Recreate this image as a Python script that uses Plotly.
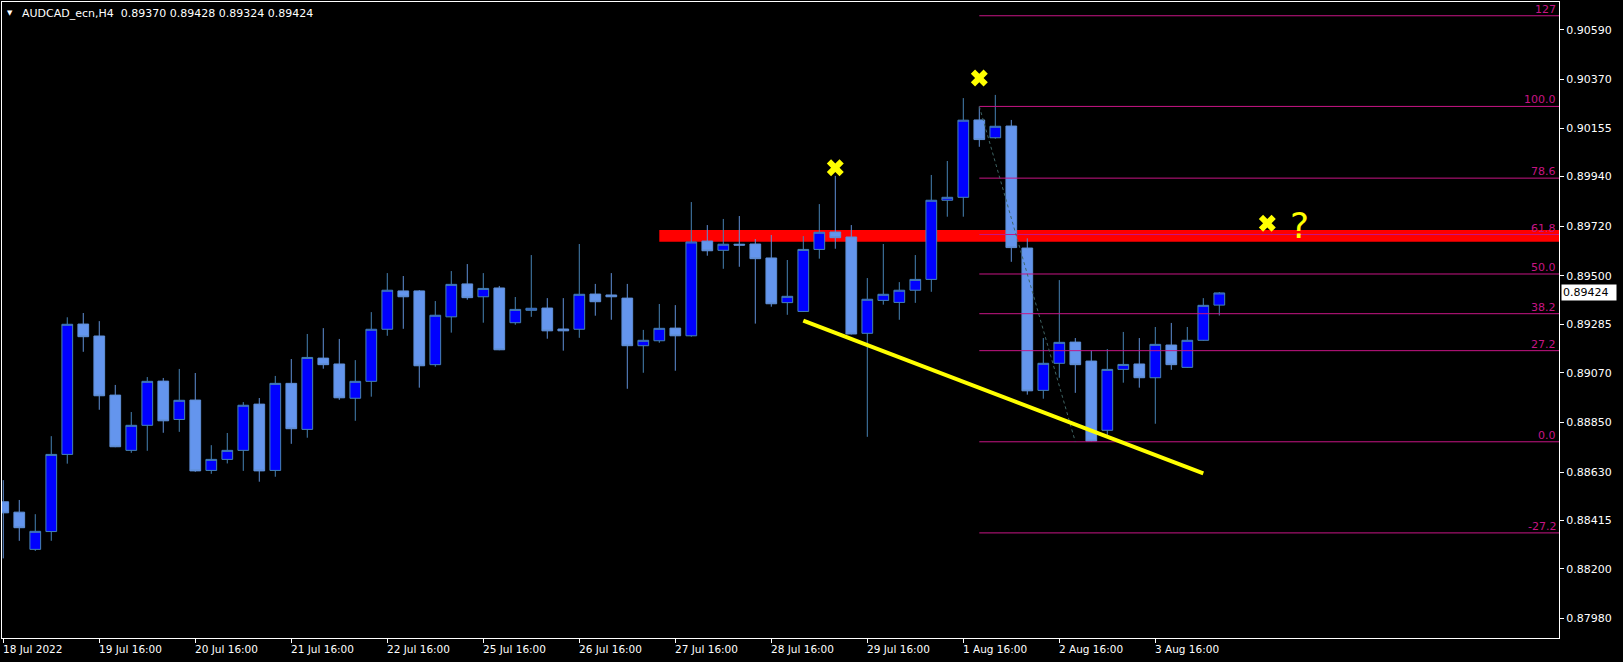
import plotly.graph_objects as go

# ---------------- data (AUDCAD_ecn, H4) ----------------
bar_index = list(range(77))
opens = [0.88498, 0.88452, 0.88287, 0.88366, 0.88708, 0.89286, 0.89233, 0.88971, 0.88726, 0.88837,
         0.89033, 0.88863, 0.88949, 0.88637, 0.88686, 0.88726, 0.88931, 0.88637, 0.89023, 0.88819,
         0.89135, 0.89109, 0.88957, 0.89032, 0.89263, 0.89433, 0.89433, 0.89106, 0.89318, 0.89464,
         0.89407, 0.89446, 0.89292, 0.89347, 0.89357, 0.89264, 0.89263, 0.89419, 0.89415, 0.89401,
         0.89190, 0.89212, 0.89268, 0.89234, 0.89654, 0.89613, 0.89640, 0.89641, 0.89579, 0.89381,
         0.89342, 0.89617, 0.89694, 0.89672, 0.89245, 0.89391, 0.89382, 0.89436, 0.89484, 0.89835,
         0.89848, 0.90191, 0.90112, 0.90164, 0.89623, 0.88992, 0.89112, 0.89206, 0.89122, 0.88815,
         0.89085, 0.89109, 0.89048, 0.89193, 0.89094, 0.89214, 0.89370]
highs = [0.88594, 0.88506, 0.88443, 0.88789, 0.89316, 0.89335, 0.89299, 0.89016, 0.88896, 0.89051,
         0.89047, 0.89087, 0.89069, 0.88749, 0.88803, 0.88940, 0.88958, 0.89056, 0.89131, 0.89242,
         0.89268, 0.89220, 0.89126, 0.89339, 0.89512, 0.89499, 0.89437, 0.89388, 0.89521, 0.89552,
         0.89512, 0.89455, 0.89406, 0.89592, 0.89401, 0.89401, 0.89641, 0.89464, 0.89512, 0.89464,
         0.89260, 0.89375, 0.89370, 0.89827, 0.89725, 0.89752, 0.89765, 0.89663, 0.89681, 0.89570,
         0.89676, 0.89818, 0.89943, 0.89725, 0.89490, 0.89641, 0.89472, 0.89592, 0.89947, 0.90009,
         0.90288, 0.90250, 0.90302, 0.90191, 0.89666, 0.89224, 0.89481, 0.89224, 0.89168, 0.89175,
         0.89251, 0.89224, 0.89273, 0.89291, 0.89273, 0.89401, 0.89428]
lows = [0.88247, 0.88325, 0.88280, 0.88325, 0.88667, 0.89163, 0.88906, 0.88740, 0.88715, 0.88724,
        0.88804, 0.88808, 0.88631, 0.88622, 0.88668, 0.88635, 0.88587, 0.88609, 0.88755, 0.88782,
        0.89088, 0.88950, 0.88857, 0.88964, 0.89234, 0.89265, 0.89004, 0.89097, 0.89248, 0.89394,
        0.89292, 0.89170, 0.89283, 0.89318, 0.89221, 0.89168, 0.89225, 0.89323, 0.89305, 0.88999,
        0.89070, 0.89203, 0.89079, 0.89230, 0.89589, 0.89531, 0.89540, 0.89288, 0.89363, 0.89327,
        0.89340, 0.89576, 0.89620, 0.89240, 0.88786, 0.89372, 0.89305, 0.89380, 0.89429, 0.89762,
        0.89762, 0.90072, 0.90108, 0.89562, 0.88973, 0.88955, 0.89048, 0.88981, 0.88764, 0.88786,
        0.89026, 0.89004, 0.88844, 0.89083, 0.89092, 0.89212, 0.89324]
closes = [0.88449, 0.88383, 0.88367, 0.88708, 0.89285, 0.89230, 0.88968, 0.88742, 0.88837, 0.89032,
          0.88857, 0.88948, 0.88635, 0.88686, 0.88726, 0.88926, 0.88635, 0.89023, 0.88822, 0.89138,
          0.89106, 0.88959, 0.89032, 0.89263, 0.89436, 0.89407, 0.89101, 0.89325, 0.89462, 0.89403,
          0.89444, 0.89172, 0.89351, 0.89356, 0.89256, 0.89256, 0.89418, 0.89385, 0.89407, 0.89190,
          0.89214, 0.89267, 0.89234, 0.89650, 0.89611, 0.89640, 0.89636, 0.89576, 0.89376, 0.89409,
          0.89617, 0.89693, 0.89669, 0.89242, 0.89396, 0.89418, 0.89436, 0.89484, 0.89835, 0.89848,
          0.90190, 0.90104, 0.90163, 0.89625, 0.88990, 0.89112, 0.89205, 0.89106, 0.88767, 0.89085,
          0.89107, 0.89048, 0.89196, 0.89106, 0.89214, 0.89369, 0.89424]

x_tick_bars = [0, 6, 12, 18, 24, 30, 36, 42, 48, 54, 60, 66, 72]
x_tick_labels = ["18 Jul 2022", "19 Jul 16:00", "20 Jul 16:00", "21 Jul 16:00", "22 Jul 16:00",
                 "25 Jul 16:00", "26 Jul 16:00", "27 Jul 16:00", "28 Jul 16:00", "29 Jul 16:00",
                 "1 Aug 16:00", "2 Aug 16:00", "3 Aug 16:00"]
y_tick_values = [0.90590, 0.90370, 0.90155, 0.89940, 0.89720, 0.89500, 0.89285,
                 0.89070, 0.88850, 0.88630, 0.88415, 0.88200, 0.87980]

fib_labels = ["127", "100.0", "78.6", "61.8", "50.0", "38.2", "27.2", "0.0", "-27.2"]
fib_prices = [0.90653, 0.90251, 0.89933, 0.89683, 0.89508, 0.89332, 0.89168, 0.88764, 0.88360]
fib_start_bar = 61
fib_trend_bars = [61, 67]
fib_trend_prices = [0.90251, 0.88764]

zone_start_bar = 41
zone_prices = [0.89651, 0.89703]

trend_bars = [50, 75]
trend_prices = [0.89301, 0.88624]

mark_bars = [52, 61, 79]
mark_prices = [0.89979, 0.90377, 0.89733]
question_bar = 81
question_price = 0.89725

title_text = "AUDCAD_ecn,H4  0.89370 0.89428 0.89324 0.89424"
last_price = 0.89424

# ---------------- figure ----------------
FONT = "DejaVu Sans"
FIB_COLOR = "#C71585"

fig = go.Figure()

fig.add_trace(go.Candlestick(
    x=bar_index, open=opens, high=highs, low=lows, close=closes,
    increasing=dict(fillcolor="#0000FF", line=dict(color="#4682B4", width=1)),
    decreasing=dict(fillcolor="#6495ED", line=dict(color="#5F8FD6", width=1)),
    whiskerwidth=0, showlegend=False, hoverinfo="skip",
))

fig.add_trace(go.Scatter(
    x=mark_bars, y=mark_prices, mode="markers",
    marker=dict(symbol="x", size=15, color="#FFFF00", line=dict(width=0)),
    showlegend=False, hoverinfo="skip",
))

shapes = []
# support/resistance zone (background)
shapes.append(dict(type="rect", xref="x", yref="y", x0=zone_start_bar, x1=500,
                   y0=zone_prices[0], y1=zone_prices[1], fillcolor="#FF0000",
                   line=dict(width=0), layer="below"))
# fibonacci levels
for p in fib_prices:
    shapes.append(dict(type="line", xref="x", yref="y", x0=fib_start_bar, x1=500,
                       y0=p, y1=p, line=dict(color=FIB_COLOR, width=1), layer="above"))
# fibonacci anchor line
shapes.append(dict(type="line", xref="x", yref="y",
                   x0=fib_trend_bars[0], x1=fib_trend_bars[1],
                   y0=fib_trend_prices[0], y1=fib_trend_prices[1],
                   line=dict(color="#3E6464", width=1, dash="dot"), layer="above"))
# yellow trend line
shapes.append(dict(type="line", xref="x", yref="y",
                   x0=trend_bars[0], x1=trend_bars[1],
                   y0=trend_prices[0], y1=trend_prices[1],
                   line=dict(color="#FFFF00", width=4), layer="above"))

annotations = []
for lab, p in zip(fib_labels, fib_prices):
    annotations.append(dict(xref="paper", yref="y", x=1, y=p, xanchor="right", yanchor="bottom",
                            text=lab, showarrow=False, xshift=-1, yshift=-2,
                            font=dict(family=FONT, size=11, color=FIB_COLOR)))
for b, lab in zip(x_tick_bars, x_tick_labels):
    annotations.append(dict(xref="x", yref="paper", x=b, y=0, xanchor="left", yanchor="top",
                            text=lab, showarrow=False, xshift=-2, yshift=-3,
                            font=dict(family=FONT, size=10.5, color="white")))
annotations.append(dict(xref="paper", yref="y", x=1, y=last_price, xanchor="left", yanchor="middle",
                        text="0.89424", showarrow=False, xshift=2, bgcolor="white",
                        borderpad=1, width=52, align="left",
                        font=dict(family=FONT, size=11, color="black")))
annotations.append(dict(xref="paper", yref="paper", x=0, y=1, xanchor="left", yanchor="top",
                        text="▼", showarrow=False, xshift=3, yshift=-5,
                        font=dict(family=FONT, size=7, color="white")))
annotations.append(dict(xref="paper", yref="paper", x=0, y=1, xanchor="left", yanchor="top",
                        text=title_text, showarrow=False, xshift=18, yshift=-3,
                        font=dict(family=FONT, size=11, color="white")))
annotations.append(dict(xref="x", yref="y", x=question_bar, y=question_price,
                        xanchor="center", yanchor="middle", text="?", showarrow=False,
                        font=dict(family=FONT, size=36, color="#FFFF00")))

fig.update_layout(
    width=1623, height=662, autosize=False,
    margin=dict(l=2, r=64, t=2, b=24, pad=0),
    paper_bgcolor="black", plot_bgcolor="black",
    boxgap=0.33, boxgroupgap=0,
    shapes=shapes, annotations=annotations,
    showlegend=False, hovermode=False,
    xaxis=dict(range=[-0.08, 97.23], rangeslider=dict(visible=False),
               showgrid=False, zeroline=False,
               tickmode="array", tickvals=x_tick_bars, ticktext=x_tick_labels,
               showticklabels=False, ticks="outside", ticklen=4, tickcolor="white",
               showline=True, linecolor="white", linewidth=1, mirror=True),
    yaxis=dict(range=[0.87894, 0.90714], side="right",
               showgrid=False, zeroline=False,
               tickmode="array", tickvals=y_tick_values,
               ticktext=[f"{v:.5f}" for v in y_tick_values],
               ticks="outside", ticklen=4, tickcolor="white",
               tickfont=dict(family=FONT, size=11, color="white"),
               showline=True, linecolor="white", linewidth=1, mirror=True),
)

fig.write_html(
    "out.html",
    config={"displayModeBar": False},
    post_script="document.body.style.margin='0px';document.body.style.background='black';",
)
